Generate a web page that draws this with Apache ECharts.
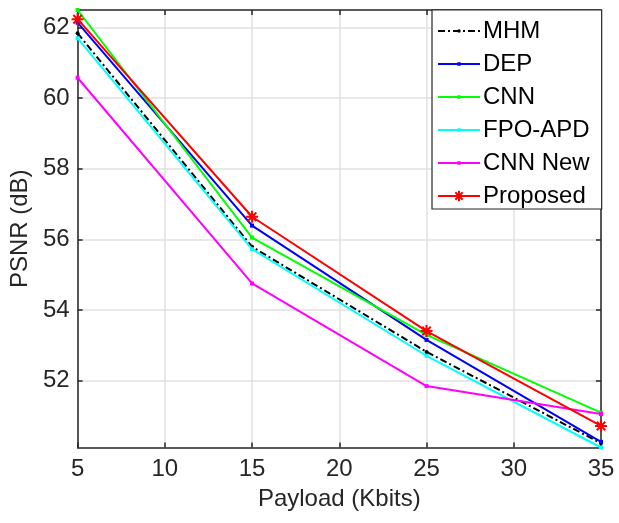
<!DOCTYPE html>
<html>
<head>
<meta charset="utf-8">
<script src="https://cdn.jsdelivr.net/npm/echarts@6/dist/echarts.min.js"></script>
<style>
  html, body { margin: 0; padding: 0; background: #fff; }
  #chart { width: 619px; height: 523px; }
</style>
</head>
<body>
<div id="chart"></div>
<script>
// payload sizes (Kbits)
const payload = [5, 15, 25, 35]

// PSNR (dB) per method
const mhm = [61.84, 55.79, 52.81, 50.22]
const dep = [62.14, 56.39, 53.15, 50.26]
const cnn = [62.5, 56.05, 53.29, 51.09]
const fpoApd = [61.70, 55.72, 52.70, 50.10]
const cnnNew = [60.58, 54.75, 51.84, 51.05]
const proposed = [62.24, 56.64, 53.40, 50.71]

const yTicks = [52, 54, 56, 58, 60, 62]

const axisColor = '#262626'
const gridColor = '#e0e0e0'
const font = 'Liberation Sans, Arial, Helvetica, sans-serif'

// all markers share a 24x24 box so the legend (which sizes icons from itemHeight)
// keeps the small dots small and the asterisk bigger
const asterisk = 'path://M0,-12L0,12M-12,0L12,0M-8.5,-8.5L8.5,8.5M-8.5,8.5L8.5,-8.5'
const dot = 'path://M-12,-12M12,12M-4,0A4,4 0 1 0 4,0A4,4 0 1 0 -4,0Z'
const square = 'path://M-12,-12M12,12M-4,-4L4,-4L4,4L-4,4Z'

function pairs(values) {
  return payload.map((x, i) => [x, values[i]])
}

function lineSeries(name, values, color, opts = {}) {
  return {
    name,
    type: 'line',
    data: pairs(values),
    symbol: opts.symbol || square,
    symbolSize: opts.symbolSize || 12,
    lineStyle: { color, width: 2, type: opts.dash || 'solid' },
    itemStyle: opts.itemStyle || { color },
    z: opts.z,
    animation: false
  }
}

const chart = echarts.init(document.getElementById('chart'), null, { renderer: 'canvas' })

const baseX = {
  type: 'value',
  min: 5,
  max: 35,
  interval: 5,
  axisLine: { show: true, onZero: false, lineStyle: { color: axisColor, width: 1.5 } },
  axisTick: { show: true, inside: true, length: 5, lineStyle: { color: axisColor, width: 1.5 } }
}

const baseY = {
  type: 'value',
  min: 50.1,
  max: 62.5,
  axisLine: { show: true, onZero: false, lineStyle: { color: axisColor, width: 1.5 } },
  axisTick: { show: true, inside: true, length: 5, customValues: yTicks, lineStyle: { color: axisColor, width: 1.5 } }
}

const option = {
  backgroundColor: '#fff',
  textStyle: { fontFamily: font },
  grid: { left: 74, right: 18, top: 10, bottom: 75.5, containLabel: false },
  xAxis: [
    {
      ...baseX,
      position: 'bottom',
      name: 'Payload (Kbits)',
      nameLocation: 'middle',
      nameGap: 40,
      nameTextStyle: { fontSize: 24, color: axisColor, fontFamily: font },
      axisLabel: { fontSize: 24, color: axisColor, margin: 10, fontFamily: font },
      splitLine: { show: true, lineStyle: { color: gridColor, width: 1.5 } }
    },
    {
      ...baseX,
      position: 'top',
      axisLabel: { show: false },
      splitLine: { show: false }
    }
  ],
  yAxis: [
    {
      ...baseY,
      position: 'left',
      name: 'PSNR (dB)',
      nameLocation: 'middle',
      nameGap: 44,
      nameTextStyle: { fontSize: 24, color: axisColor, fontFamily: font },
      axisLabel: { fontSize: 24, color: axisColor, margin: 8, customValues: yTicks, fontFamily: font },
      splitLine: { show: true, lineStyle: { color: gridColor, width: 1.5 } }
    },
    {
      ...baseY,
      position: 'right',
      axisLabel: { show: false },
      splitLine: { show: false }
    }
  ],
  legend: {
    orient: 'vertical',
    left: 432,
    top: 10,
    padding: [9, 12, 1, 5],
    itemWidth: 42,
    itemHeight: 13,
    itemGap: 9,
    backgroundColor: '#fff',
    borderColor: axisColor,
    borderWidth: 1.2,
    borderRadius: 0,
    textStyle: { fontSize: 24, color: '#000', fontFamily: font, padding: [0, 0, 0, -2] },
    z: 10,
    data: ['MHM', 'DEP', 'CNN', 'FPO-APD', 'CNN New', 'Proposed']
  },
  series: [
    lineSeries('MHM', mhm, '#000000', { symbol: dot, dash: [7, 3, 2, 3], z: 2 }),
    lineSeries('DEP', dep, '#0000ff', { z: 3 }),
    lineSeries('CNN', cnn, '#00ff00', { z: 4 }),
    lineSeries('FPO-APD', fpoApd, '#00ffff', { z: 5 }),
    lineSeries('CNN New', cnnNew, '#ff00ff', { z: 6 }),
    lineSeries('Proposed', proposed, '#ff0000', {
      symbol: asterisk,
      symbolSize: 12,
      itemStyle: { color: 'none', borderColor: '#ff0000', borderWidth: 2 },
      z: 7
    })
  ]
}

chart.setOption(option)
</script>
</body>
</html>
